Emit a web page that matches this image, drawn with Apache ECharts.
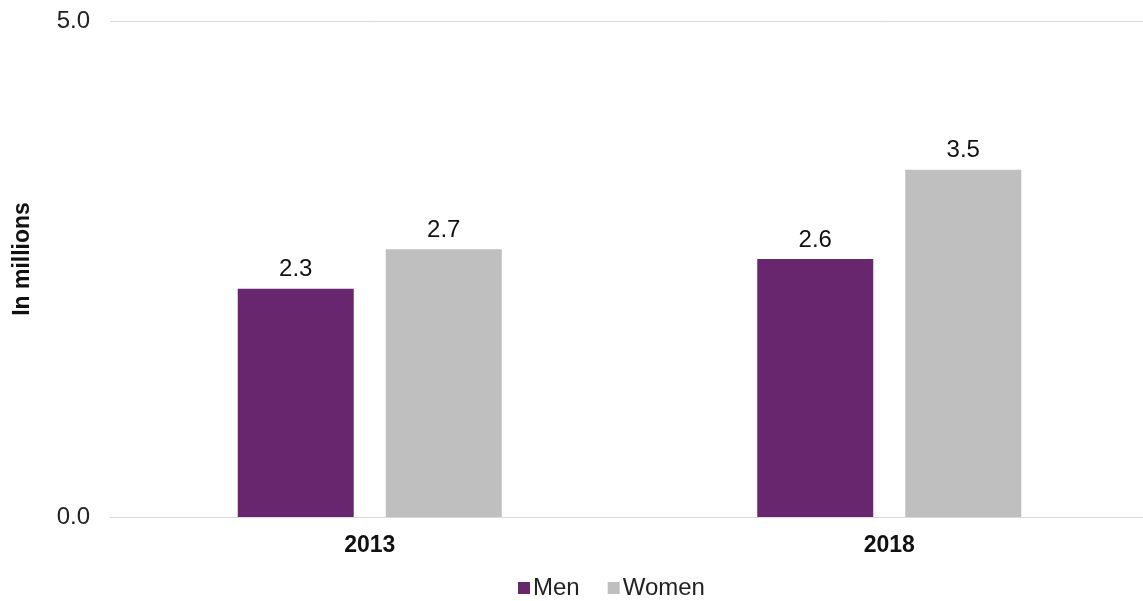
<!DOCTYPE html>
<html>
<head>
<meta charset="utf-8">
<script src="https://cdn.jsdelivr.net/npm/echarts@6/dist/echarts.min.js"></script>
<style>html,body{margin:0;padding:0;background:#fff;}#c{width:1143px;height:601px;}</style>
</head>
<body>
<div id="c"></div>
<script>
const categories = ['2013', '2018'];
const men = [2.3, 2.6];
const women = [2.7, 3.5];
const yTicks = [0, 5];

const chart = echarts.init(document.getElementById('c'));
const font = 'Liberation Sans, Arial, sans-serif';
chart.setOption({
  animation: false,
  textStyle: { fontFamily: font },
  grid: { left: 110, right: -6, top: 21, bottom: 84, outerBoundsMode: 'none', containLabel: false },
  legend: {
    top: 571, left: 513, itemWidth: 12, itemHeight: 12, itemGap: 28,
    icon: 'rect',
    textStyle: { fontSize: 24, color: '#222', fontFamily: font, padding: [0, 0, 0, -2] },
    data: ['Men', 'Women']
  },
  xAxis: {
    type: 'category', data: categories,
    axisLine: { show: true, lineStyle: { color: '#d9d9d9', width: 1 } },
    axisTick: { show: false },
    axisLabel: { fontSize: 23, fontWeight: 'bold', color: '#111', margin: 17, fontFamily: font }
  },
  yAxis: {
    type: 'value', min: yTicks[0], max: yTicks[1], interval: 5,
    name: 'In millions', nameLocation: 'middle', nameGap: 76, nameRotate: 90,
    nameTextStyle: { fontSize: 23, fontWeight: 'bold', color: '#111', fontFamily: font, padding: [0, 0, 0, 20] },
    axisLine: { show: false }, axisTick: { show: false },
    axisLabel: { fontSize: 24, color: '#222', margin: 20, formatter: v => v.toFixed(1), fontFamily: font },
    splitLine: { lineStyle: { color: '#d9d9d9', width: 1 } }
  },
  series: [
    { name: 'Men', type: 'bar', data: men, barWidth: 116, barGap: '27.6%',
      itemStyle: { color: '#68266f' },
      label: { show: true, position: 'top', distance: 7, fontSize: 24, color: '#111', formatter: p => p.value.toFixed(1), fontFamily: font } },
    { name: 'Women', type: 'bar', data: women, barWidth: 116,
      itemStyle: { color: '#bfbfbf' },
      label: { show: true, position: 'top', distance: 7, fontSize: 24, color: '#111', formatter: p => p.value.toFixed(1), fontFamily: font } }
  ]
});
</script>
</body>
</html>
